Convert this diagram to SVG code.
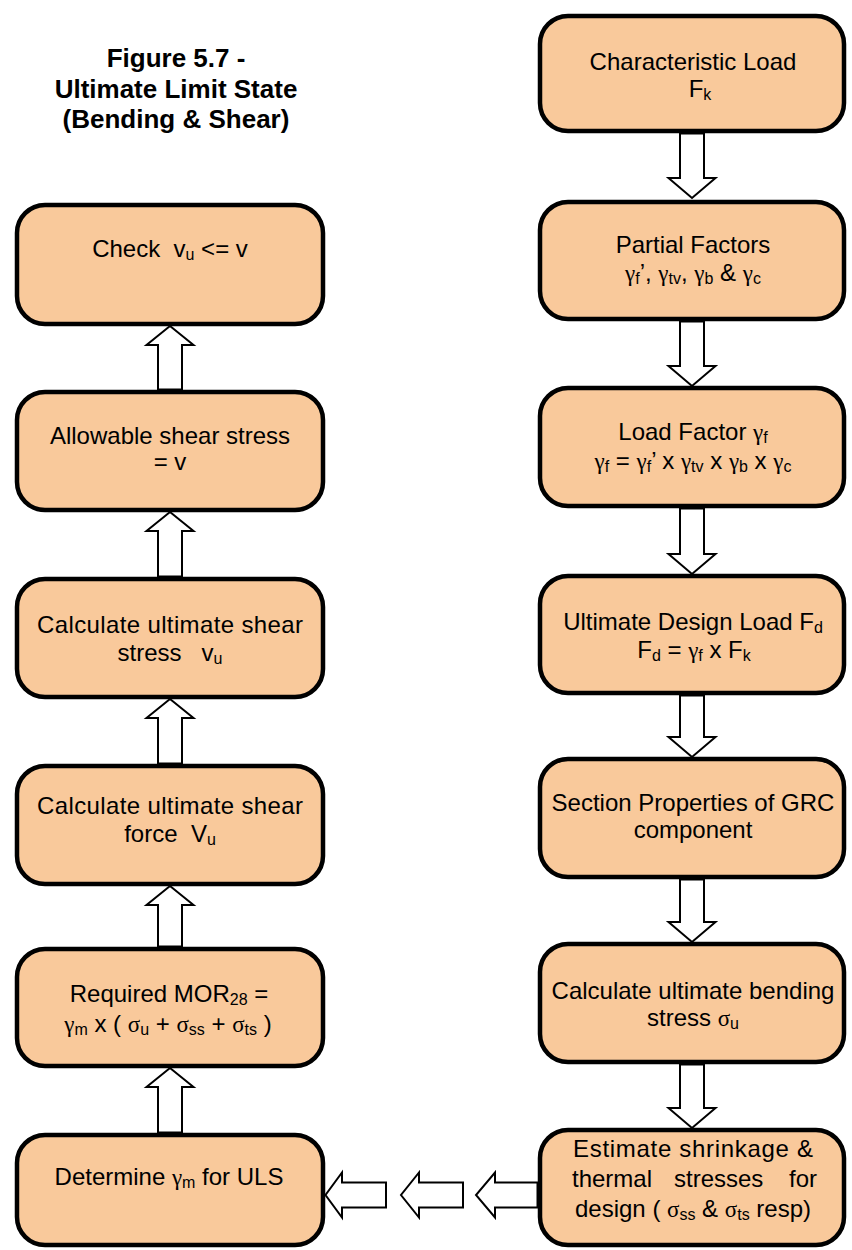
<svg xmlns="http://www.w3.org/2000/svg" width="852" height="1250" viewBox="0 0 852 1250">
<style>
.box{fill:#F9C99B;stroke:#000;stroke-width:4.5}
.t{font-family:"Liberation Sans",Arial,sans-serif;font-size:24px;text-anchor:middle;fill:#000}
.title{font-family:"Liberation Sans",Arial,sans-serif;font-size:26px;font-weight:bold;text-anchor:middle;fill:#000}
.s{font-size:16px}
.g{font-family:"Liberation Serif","Times New Roman",serif;font-size:23px}
.arr{fill:#fff;stroke:#000;stroke-width:2;stroke-linejoin:miter}
</style>
<rect width="852" height="1250" fill="#fff"/>
<g id="title">
<text class="title" x="176" y="67">Figure 5.7 -</text>
<text class="title" x="176" y="98">Ultimate Limit State</text>
<text class="title" x="176" y="128">(Bending &amp; Shear)</text>
</g>
<g id="n1"><rect class="box" x="540" y="16" width="304" height="115" rx="28"/>
<text class="t" x="693" y="70">Characteristic Load</text>
<text class="t" x="700" y="97">F<tspan class="s" dy="3">k</tspan></text></g>
<g id="n2"><rect class="box" x="540" y="202" width="304" height="117" rx="28"/>
<text class="t" x="693" y="253">Partial Factors</text>
<text class="t" x="693" y="281"><tspan class="g">γ</tspan><tspan class="s" dy="3">f</tspan><tspan dy="-3">’, </tspan><tspan class="g">γ</tspan><tspan class="s" dy="3">tv</tspan><tspan dy="-3">, </tspan><tspan class="g">γ</tspan><tspan class="s" dy="3">b</tspan><tspan dy="-3"> &amp; </tspan><tspan class="g">γ</tspan><tspan class="s" dy="3">c</tspan></text></g>
<g id="n3"><rect class="box" x="540" y="388" width="304" height="118" rx="28"/>
<text class="t" x="693" y="440">Load Factor <tspan class="g">γ</tspan><tspan class="s" dy="3">f</tspan></text>
<text class="t" x="693" y="469"><tspan class="g">γ</tspan><tspan class="s" dy="3">f</tspan><tspan dy="-3"> = </tspan><tspan class="g">γ</tspan><tspan class="s" dy="3">f</tspan><tspan dy="-3">’ x </tspan><tspan class="g">γ</tspan><tspan class="s" dy="3">tv</tspan><tspan dy="-3"> x </tspan><tspan class="g">γ</tspan><tspan class="s" dy="3">b</tspan><tspan dy="-3"> x </tspan><tspan class="g">γ</tspan><tspan class="s" dy="3">c</tspan></text></g>
<g id="n4"><rect class="box" x="540" y="576" width="304" height="117" rx="28"/>
<text class="t" x="693" y="630">Ultimate Design Load F<tspan class="s" dy="3">d</tspan></text>
<text class="t" x="694" y="658">F<tspan class="s" dy="3">d</tspan><tspan dy="-3"> = </tspan><tspan class="g">γ</tspan><tspan class="s" dy="3">f</tspan><tspan dy="-3"> x F</tspan><tspan class="s" dy="3">k</tspan></text></g>
<g id="n5"><rect class="box" x="540" y="759" width="304" height="118" rx="28"/>
<text class="t" x="693" y="811">Section Properties of GRC</text>
<text class="t" x="693" y="838">component</text></g>
<g id="n6"><rect class="box" x="540" y="944" width="304" height="118" rx="28"/>
<text class="t" x="693" y="999">Calculate ultimate bending</text>
<text class="t" x="693" y="1026">stress <tspan class="g">σ</tspan><tspan class="s" dy="3">u</tspan></text></g>
<g id="n7"><rect class="box" x="540" y="1130" width="304" height="115" rx="28"/>
<text class="t" x="693" y="1157" textLength="240" lengthAdjust="spacing">Estimate shrinkage &amp;</text>
<text class="t" y="1187"><tspan x="572" text-anchor="start">thermal</tspan><tspan x="674" text-anchor="start">stresses</tspan><tspan x="817" text-anchor="end">for</tspan></text>
<text class="t" x="693" y="1217">design ( <tspan class="g">σ</tspan><tspan class="s" dy="3">ss</tspan><tspan dy="-3"> &amp; </tspan><tspan class="g">σ</tspan><tspan class="s" dy="3">ts</tspan><tspan dy="-3"> resp)</tspan></text></g>
<g id="m1"><rect class="box" x="17" y="205" width="306" height="119" rx="28"/>
<text class="t" x="170" y="257" xml:space="preserve">Check  v<tspan class="s" dy="3">u</tspan><tspan dy="-3"> &lt;= v</tspan></text></g>
<g id="m2"><rect class="box" x="17" y="392" width="306" height="118" rx="28"/>
<text class="t" x="170" y="444">Allowable shear stress</text>
<text class="t" x="170" y="470">= v</text></g>
<g id="m3"><rect class="box" x="17" y="579" width="306" height="118" rx="28"/>
<text class="t" x="170" y="633" textLength="266" lengthAdjust="spacing">Calculate ultimate shear</text>
<text class="t" x="170" y="661" xml:space="preserve">stress   v<tspan class="s" dy="3">u</tspan></text></g>
<g id="m4"><rect class="box" x="17" y="766" width="306" height="118" rx="28"/>
<text class="t" x="170" y="814" textLength="266" lengthAdjust="spacing">Calculate ultimate shear</text>
<text class="t" x="170" y="842" xml:space="preserve">force  V<tspan class="s" dy="3">u</tspan></text></g>
<g id="m5"><rect class="box" x="17" y="949" width="306" height="117" rx="28"/>
<text class="t" x="169" y="1002">Required MOR<tspan class="s" dy="3">28</tspan><tspan dy="-3"> =</tspan></text>
<text class="t" x="168" y="1032"><tspan class="g">γ</tspan><tspan class="s" dy="3">m</tspan><tspan dy="-3"> x ( </tspan><tspan class="g">σ</tspan><tspan class="s" dy="3">u</tspan><tspan dy="-3"> + </tspan><tspan class="g">σ</tspan><tspan class="s" dy="3">ss</tspan><tspan dy="-3"> + </tspan><tspan class="g">σ</tspan><tspan class="s" dy="3">ts</tspan><tspan dy="-3"> )</tspan></text></g>
<g id="m6"><rect class="box" x="17" y="1135" width="306" height="110" rx="28"/>
<text class="t" x="169" y="1185">Determine <tspan class="g">γ</tspan><tspan class="s" dy="3">m</tspan><tspan dy="-3"> for ULS</tspan></text></g>
<g id="connectors">
<path class="arr" d="M680,133.5V178H668.5L692,198L715.5,178H704V133.5Z"/>
<path class="arr" d="M680,321.5V366H668.5L692,386L715.5,366H704V321.5Z"/>
<path class="arr" d="M680,508.5V554H668.5L692,574L715.5,554H704V508.5Z"/>
<path class="arr" d="M680,695.5V737H668.5L692,757L715.5,737H704V695.5Z"/>
<path class="arr" d="M680,879.5V922H668.5L692,942L715.5,922H704V879.5Z"/>
<path class="arr" d="M680,1064.5V1108H668.5L692,1128L715.5,1108H704V1064.5Z"/>
<path class="arr" d="M158,389.5V345H146.5L170,326L193.5,345H182V389.5Z"/>
<path class="arr" d="M158,576.5V531H146.5L170,512L193.5,531H182V576.5Z"/>
<path class="arr" d="M158,763.5V718H146.5L170,699L193.5,718H182V763.5Z"/>
<path class="arr" d="M158,946.5V905H146.5L170,886L193.5,905H182V946.5Z"/>
<path class="arr" d="M158,1132.5V1087H146.5L170,1068L193.5,1087H182V1132.5Z"/>
<path class="arr" d="M537.5,1182.5H495V1172.5L476,1195L495,1217.5V1207.5H537.5Z"/>
<path class="arr" d="M463,1182.5H419V1172.5L401,1195L419,1217.5V1207.5H463Z"/>
<path class="arr" d="M386,1182.5H342V1172.5L325.5,1195L342,1217.5V1207.5H386Z"/>
</g>
</svg>
